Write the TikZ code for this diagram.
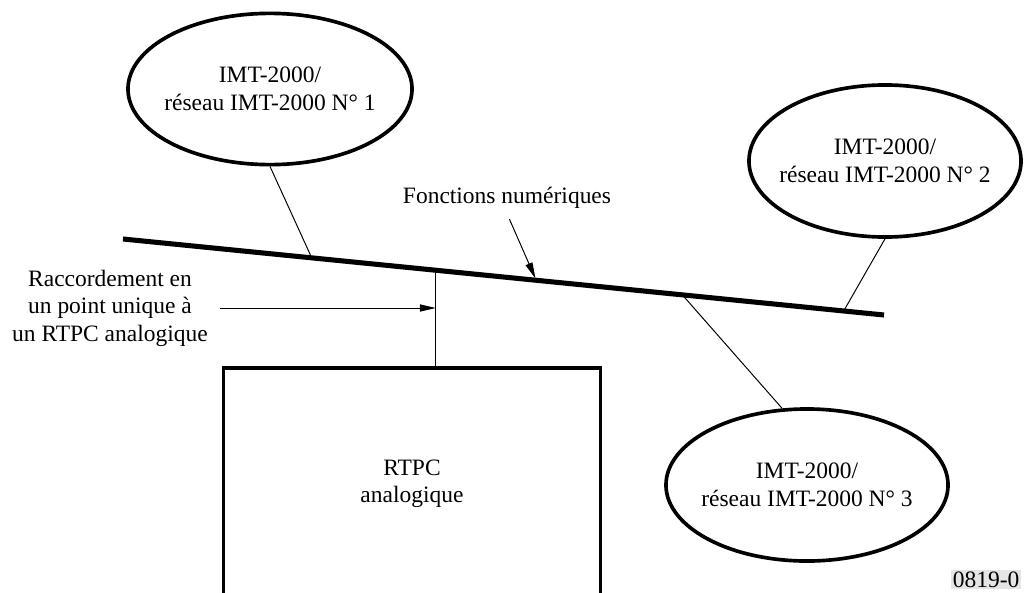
\documentclass[tikz,border=0pt]{standalone}
\usepackage{fontspec}
\setmainfont{Liberation Serif}
\usepackage{tikz}
\usetikzlibrary{calc}
\usetikzlibrary{shapes.geometric}
\usetikzlibrary{arrows.meta}
\tikzset{every edge/.style={draw, line width=0.7pt}}
\tikzset{net/.style={draw, ellipse, line width=2.6pt, inner xsep=-0.3cm, inner ysep=0pt, align=center}}

\begin{document}
\begin{tikzpicture}[x=0.025cm, y=-0.025cm, every node/.style={font=\fontsize{16.7}{19.5}\selectfont}, >={Triangle[length=4mm,width=1.8mm]}]
  \useasboundingbox (0,0) rectangle (1024,592);
  \clip (0,0) rectangle (1024,592);

  \node[net, minimum width=7.1cm, minimum height=3.78cm] at (270, 89) (n1) {IMT-2000/\\réseau IMT-2000 N° 1};
  \node[net, minimum width=6.8cm, minimum height=3.8cm] at (885, 161) (n2) {IMT-2000/\\réseau IMT-2000 N° 2};
  \node[net, minimum width=7.05cm, minimum height=3.8cm] at (807, 485) (n3) {IMT-2000/\\réseau IMT-2000 N° 3};
  \node[draw, line width=2.6pt, minimum width=9.42cm, minimum height=5.8cm, align=center] at (412, 484) (pstn) {RTPC\\analogique};

  \coordinate (w) at (123, 239);
  \coordinate (e) at (884, 315);
  \draw[line width=3.6pt] (w) -- (e);
  \coordinate (p1) at ($(w)!0.248!(e)$);
  \coordinate (p2) at ($(w)!0.947!(e)$);
  \coordinate (p3) at ($(w)!0.735!(e)$);
  \coordinate (pv) at ($(w)!0.411!(e)$);
  \coordinate (pf) at ($(w)!0.543!(e)$);

  \node at (507, 198) (fn) {Fonctions numériques};
  \node[align=center] at (110, 308) (racc) {Raccordement en\\un point unique à\\un RTPC analogique};
  \node[fill=gray!20, anchor=south east, inner sep=1pt] at (1021, 589) (ref) {0819-0};

  \draw (n1.south) edge (p1);
  \draw (n2.south) edge (p2);
  \draw (p3) edge (n3.108);
  \draw (pv) edge (pv |- pstn.north);
  \draw (fn.south) edge[->, shorten <=1.5mm, shorten >=0.5mm] (pf);
  \draw (racc) edge[->, shorten <=1.8mm] (pv |- racc);
\end{tikzpicture}
\end{document}
